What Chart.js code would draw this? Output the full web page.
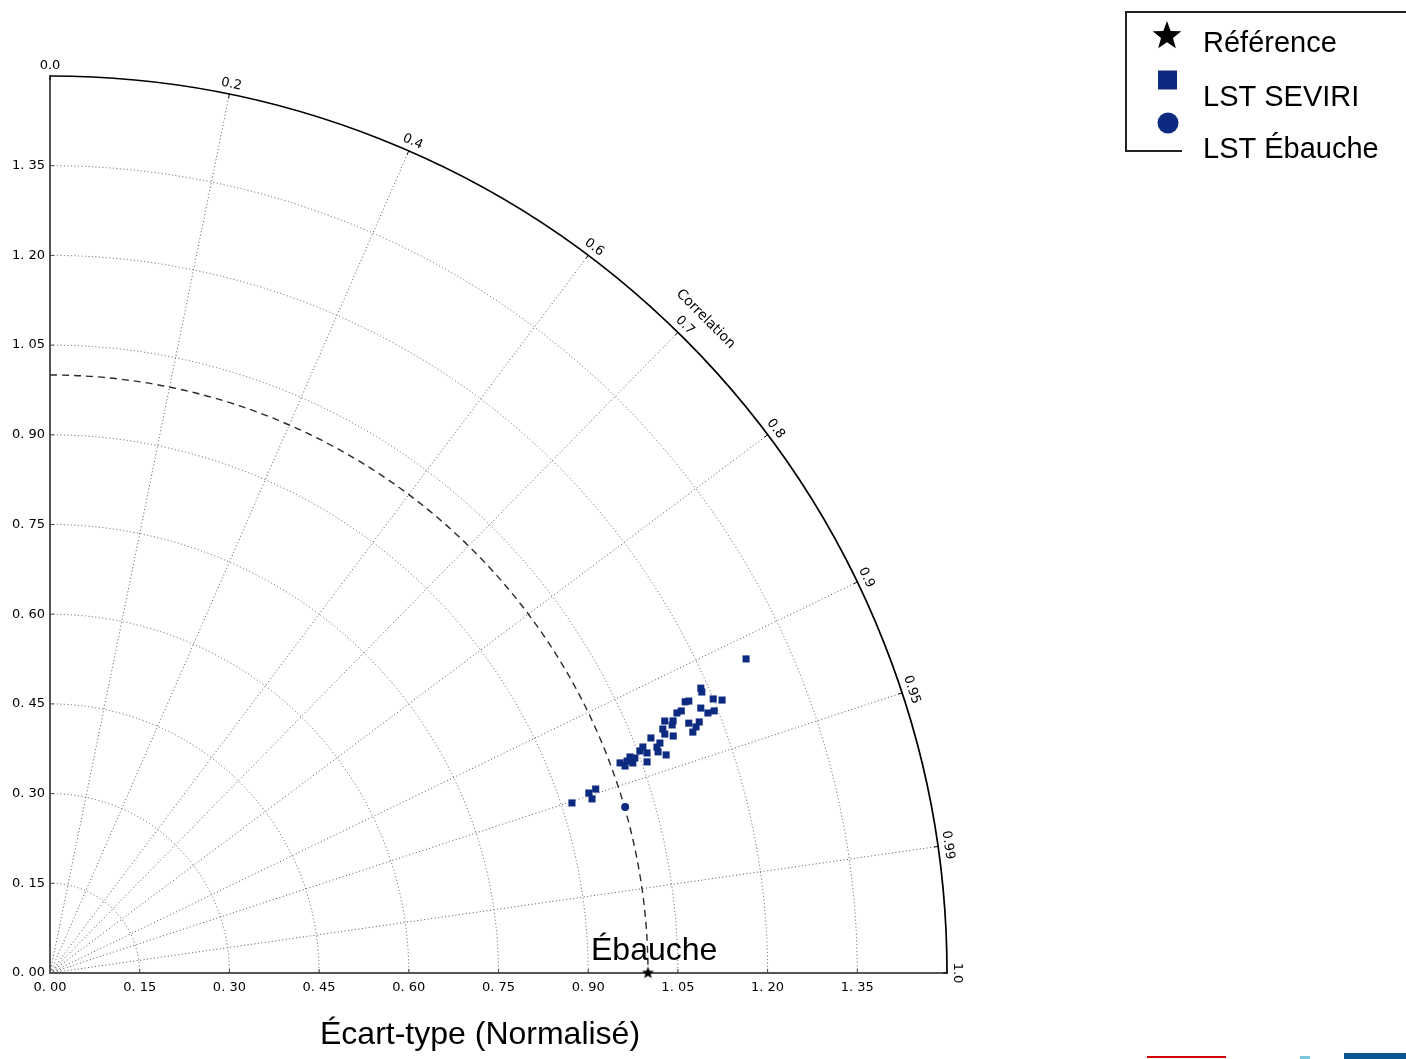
<!DOCTYPE html>
<html>
<head>
<meta charset="utf-8">
<script src="https://cdn.jsdelivr.net/npm/chart.js@4.4.1/dist/chart.umd.min.js"></script>
<style>
  html, body { margin: 0; padding: 0; background: #fff; overflow: hidden; }
  canvas { display: block; }
</style>
</head>
<body>
<canvas id="taylor" width="1406" height="1059"></canvas>
<script>
// Taylor diagram: normalised standard deviation (radius) vs. correlation (angle)
const seviriStd = [1.277, 1.188, 1.187, 1.200, 1.213, 1.155, 1.161, 1.175, 1.183, 1.194,
                   1.135, 1.143, 1.147, 1.164, 1.156, 1.148, 1.111, 1.124, 1.120, 1.103,
                   1.103, 1.115, 1.079, 1.090, 1.083, 1.061, 1.054, 1.064, 1.082, 1.093,
                   1.035, 1.042, 1.028, 1.016, 1.022, 1.036, 1.059, 0.963, 0.950, 0.952,
                   0.918];
const seviriCorr = [0.9115, 0.9161, 0.9183, 0.9242, 0.9265, 0.9197, 0.9201, 0.9262, 0.9300, 0.9302,
                    0.9237, 0.9236, 0.9313, 0.9327, 0.9345, 0.9364, 0.9253, 0.9270, 0.9289, 0.9291,
                    0.9321, 0.9347, 0.9313, 0.9357, 0.9372, 0.9344, 0.9359, 0.9383, 0.9398, 0.9427,
                    0.9371, 0.9386, 0.9387, 0.9383, 0.9409, 0.9408, 0.9428, 0.9476, 0.9485, 0.9521,
                    0.9508];
const ebaucheStd = [1.001];
const ebaucheCorr = [0.9608];
const refStd = [1.0];
const refCorr = [1.0];

const stdTicks = [0, 0.15, 0.30, 0.45, 0.60, 0.75, 0.90, 1.05, 1.20, 1.35];
const stdMax = 1.5;
const corrGrid = [0.2, 0.4, 0.6, 0.7, 0.8, 0.9, 0.95, 0.99];
const corrTicks = [0.0, 0.2, 0.4, 0.6, 0.7, 0.8, 0.9, 0.95, 0.99, 1.0];
const corrTickLabels = ['0.0', '0.2', '0.4', '0.6', '0.7', '0.8', '0.9', '0.95', '0.99', '1.0'];
const corrTitle = 'Correlation';
const xTitle = 'Écart-type (Normalisé)';
const refName = 'Ébauche';
const seriesNames = ['Référence', 'LST SEVIRI', 'LST Ébauche'];

const NAVY = '#0b2a80';
const TICK_FONT = '13px "DejaVu Sans"';

function toXY(std, corr) {
  return { x: std * corr, y: std * Math.sqrt(Math.max(0, 1 - corr * corr)) };
}
const pts = (s, c) => s.map((v, i) => toXY(v, c[i]));

function makeStar(outer, color) {
  const size = Math.ceil(outer * 2 + 2);
  const cv = document.createElement('canvas');
  cv.width = cv.height = size;
  const g = cv.getContext('2d');
  const c = size / 2, inner = outer * 0.42;
  g.fillStyle = color;
  g.beginPath();
  for (let i = 0; i < 10; i++) {
    const a = -Math.PI / 2 + i * Math.PI / 5;
    const r = i % 2 ? inner : outer;
    const px = c + r * Math.cos(a), py = c + r * Math.sin(a);
    i ? g.lineTo(px, py) : g.moveTo(px, py);
  }
  g.closePath();
  g.fill();
  return cv;
}

const fmtStd = v => v.toFixed(2).replace('.', '. ');

const taylorGrid = {
  id: 'taylorGrid',
  beforeDatasetsDraw(chart) {
    const { ctx, scales: { x, y } } = chart;
    const cx = x.getPixelForValue(0), cy = y.getPixelForValue(0);
    const R = v => x.getPixelForValue(v) - cx;
    const Rmax = R(stdMax);
    ctx.save();

    // dotted standard deviation arcs
    ctx.strokeStyle = '#555';
    ctx.lineWidth = 1;
    ctx.setLineDash([1, 2.5]);
    stdTicks.slice(1).forEach(v => {
      ctx.beginPath();
      ctx.arc(cx, cy, R(v), -Math.PI / 2, 0);
      ctx.stroke();
    });
    // dotted correlation rays
    corrGrid.forEach(c => {
      const t = Math.acos(c);
      ctx.beginPath();
      ctx.moveTo(cx, cy);
      ctx.lineTo(cx + Rmax * Math.cos(t), cy - Rmax * Math.sin(t));
      ctx.stroke();
    });

    // dashed reference arc (std = 1)
    ctx.strokeStyle = '#2a2a2a';
    ctx.lineWidth = 1.4;
    ctx.setLineDash([7, 5]);
    ctx.beginPath();
    ctx.arc(cx, cy, R(refStd[0]), -Math.PI / 2, 0);
    ctx.stroke();

    // outer correlation axis
    ctx.setLineDash([]);
    ctx.strokeStyle = '#000';
    ctx.lineWidth = 1.7;
    ctx.beginPath();
    ctx.arc(cx, cy, Rmax, -Math.PI / 2, 0);
    ctx.stroke();

    // inward tick marks on the outer arc
    ctx.lineWidth = 1;
    corrTicks.forEach(c => {
      const t = Math.acos(c);
      ctx.beginPath();
      ctx.moveTo(cx + Rmax * Math.cos(t), cy - Rmax * Math.sin(t));
      ctx.lineTo(cx + (Rmax - 4) * Math.cos(t), cy - (Rmax - 4) * Math.sin(t));
      ctx.stroke();
    });

    // inward tick marks on the straight axes
    ctx.strokeStyle = '#444';
    stdTicks.slice(1).forEach(v => {
      const px = x.getPixelForValue(v), py = y.getPixelForValue(v);
      ctx.beginPath();
      ctx.moveTo(px, cy); ctx.lineTo(px, cy - 4);
      ctx.moveTo(cx, py); ctx.lineTo(cx + 4, py);
      ctx.stroke();
    });

    // correlation tick labels, rotated along the arc
    ctx.fillStyle = '#000';
    ctx.font = TICK_FONT;
    ctx.textAlign = 'center';
    ctx.textBaseline = 'middle';
    corrTicks.forEach((c, i) => {
      const t = Math.acos(c);
      const rl = Rmax + 10;
      ctx.save();
      ctx.translate(cx + rl * Math.cos(t), cy - rl * Math.sin(t));
      ctx.rotate(Math.PI / 2 - t);
      ctx.fillText(corrTickLabels[i], 0, 0);
      ctx.restore();
    });

    // axis title of the correlation arc
    const tt = Math.acos(0.708), rt = Rmax + 29;
    ctx.save();
    ctx.translate(cx + rt * Math.cos(tt), cy - rt * Math.sin(tt));
    ctx.rotate(Math.PI / 2 - tt);
    ctx.font = '14px "DejaVu Sans"';
    ctx.fillText(corrTitle, 0, 0);
    ctx.restore();

    ctx.restore();
  },
  afterDraw(chart) {
    const { ctx } = chart;
    const ds = chart.data.datasets;
    ctx.save();

    // reference point name
    ctx.fillStyle = '#000';
    ctx.font = '32px "Liberation Sans"';
    ctx.textAlign = 'left';
    ctx.textBaseline = 'alphabetic';
    ctx.fillText(refName, 591, 960);

    // x axis title
    ctx.fillText(xTitle, 320, 1044);

    // legend
    ctx.strokeStyle = '#222';
    ctx.lineWidth = 2;
    ctx.beginPath();
    ctx.moveTo(1182, 151); ctx.lineTo(1126, 151); ctx.lineTo(1126, 12); ctx.lineTo(1410, 12);
    ctx.stroke();
    ctx.font = '29px "Liberation Sans"';
    const rowBase = [52, 106, 158];
    const iconY = [36, 80, 123];
    ctx.drawImage(makeStar(15, '#000'), 1167 - 16, iconY[0] - 16);
    ctx.fillStyle = ds[1].backgroundColor;
    ctx.fillRect(1158, iconY[1] - 9.5, 19, 19);
    ctx.beginPath();
    ctx.arc(1168, iconY[2], 10.5, 0, Math.PI * 2);
    ctx.fillStyle = ds[2].backgroundColor;
    ctx.fill();
    ctx.fillStyle = '#000';
    ds.forEach((d, i) => ctx.fillText(d.label, 1203, rowBase[i]));

    // page footer strips
    ctx.fillStyle = '#d40000';
    ctx.fillRect(1147, 1056, 79, 2);
    ctx.fillStyle = '#7cc6dc';
    ctx.fillRect(1300, 1056, 10, 3);
    ctx.fillStyle = '#0a5592';
    ctx.fillRect(1344, 1053, 62, 6);

    ctx.restore();
  }
};

new Chart(document.getElementById('taylor'), {
  type: 'scatter',
  data: {
    datasets: [
      {
        label: seriesNames[0],
        data: pts(refStd, refCorr),
        pointStyle: makeStar(6.5, '#000'),
        backgroundColor: '#000',
        borderColor: '#000',
        clip: false
      },
      {
        label: seriesNames[1],
        data: pts(seviriStd, seviriCorr),
        pointStyle: 'rect',
        pointRadius: 5,
        backgroundColor: NAVY,
        borderColor: NAVY,
        borderWidth: 0,
        clip: false
      },
      {
        label: seriesNames[2],
        data: pts(ebaucheStd, ebaucheCorr),
        pointStyle: 'circle',
        pointRadius: 4,
        backgroundColor: NAVY,
        borderColor: NAVY,
        borderWidth: 0,
        clip: false
      }
    ]
  },
  options: {
    responsive: false,
    animation: false,
    devicePixelRatio: 1,
    layout: { padding: { left: 0, top: 76, right: 459, bottom: 0 } },
    plugins: { legend: { display: false }, tooltip: { enabled: false } },
    scales: {
      x: {
        type: 'linear', min: 0, max: stdMax,
        afterFit(s) { s.height = 86; },
        afterBuildTicks(s) { s.ticks = stdTicks.map(v => ({ value: v })); },
        ticks: {
          callback: v => fmtStd(v), padding: 7, maxRotation: 0, autoSkip: false,
          color: '#000', font: { family: 'DejaVu Sans', size: 13 }
        },
        grid: { display: true, drawOnChartArea: false, drawTicks: false },
        border: { display: true, color: '#555', width: 2 }
      },
      y: {
        type: 'linear', min: 0, max: stdMax,
        afterFit(s) { s.width = 50; },
        afterBuildTicks(s) { s.ticks = stdTicks.map(v => ({ value: v })); },
        ticks: {
          callback: v => fmtStd(v), padding: 5, autoSkip: false,
          color: '#000', font: { family: 'DejaVu Sans', size: 13 }
        },
        grid: { display: true, drawOnChartArea: false, drawTicks: false },
        border: { display: true, color: '#555', width: 2 }
      }
    }
  },
  plugins: [taylorGrid]
});
</script>
</body>
</html>
